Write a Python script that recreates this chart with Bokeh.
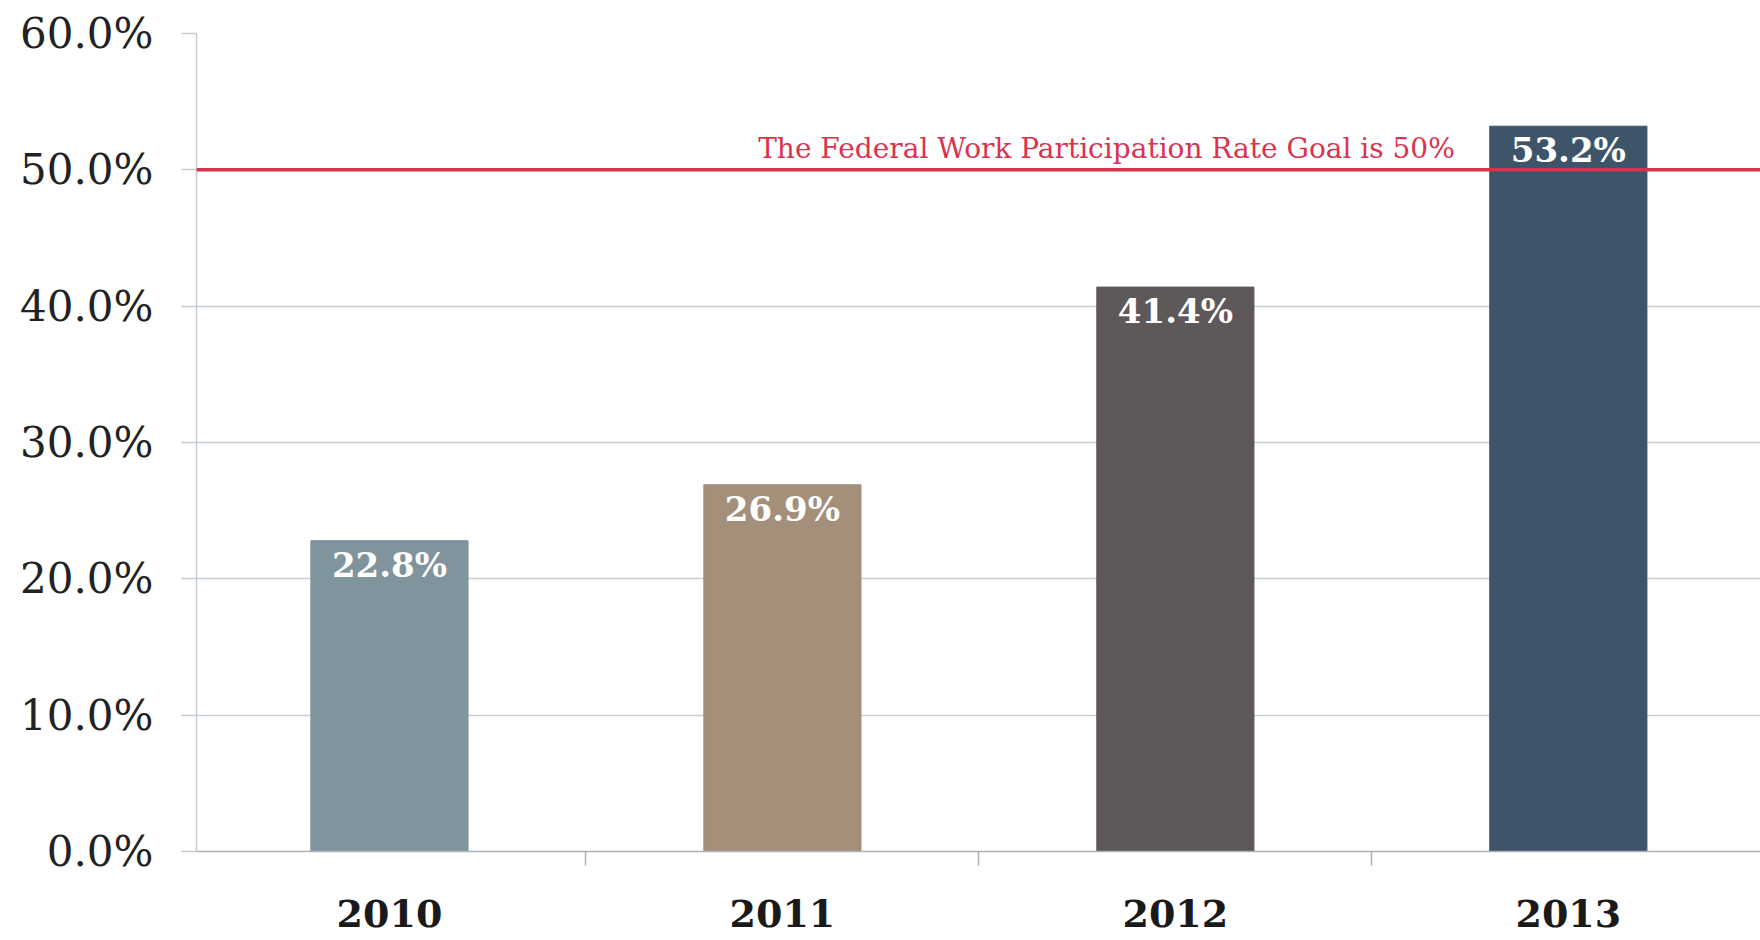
from bokeh.plotting import figure
from bokeh.models import (ColumnDataSource, Range1d, FixedTicker, PrintfTickFormatter,
                          Span, Label)
from bokeh.embed import file_html
from bokeh.resources import INLINE
from bokeh.core.properties import value

# ---- data ----
years = ["2010", "2011", "2012", "2013"]
rates = [22.8, 26.9, 41.4, 53.2]
rate_labels = ["22.8%", "26.9%", "41.4%", "53.2%"]
bar_colors = ["#7f949c", "#a38f7a", "#5f5859", "#3e5569"]
goal = 50.0
goal_text = "The Federal Work Participation Rate Goal is 50%"
y_ticks = [0, 10, 20, 30, 40, 50, 60]

xs = list(range(len(years)))
src = ColumnDataSource(dict(x=xs, top=rates, lab=rate_labels, color=bar_colors))

BAR_W = 0.40
p = figure(width=1760, height=940, output_backend="svg", toolbar_location=None,
           x_range=Range1d(-0.491, 3.489), y_range=Range1d(0, 60),
           min_border_left=196, min_border_right=0, min_border_top=33,
           min_border_bottom=89, outline_line_color=None)
p.background_fill_color = "white"
p.border_fill_color = "white"

p.vbar(x="x", top="top", width=BAR_W, bottom=0, color="color", source=src)

# goal line
p.add_layout(Span(location=goal, dimension="width", line_color="#d8344f", line_width=3.5))

p.text(x="x", y="top", text="lab", source=src, text_align="center", text_baseline="top",
       y_offset=4, text_color="white", text_font=value("DejaVu Serif"),
       text_font_style="bold", text_font_size="34px")

p.add_layout(Label(x=len(years) - 1 - BAR_W / 2, y=goal, x_offset=-35, y_offset=5,
                   text=goal_text, text_align="right", text_baseline="bottom",
                   text_color="#d8344f", text_font="DejaVu Serif", text_font_size="28px"))

# y axis
p.yaxis.ticker = FixedTicker(ticks=y_ticks)
p.yaxis.formatter = PrintfTickFormatter(format="%.1f%%")
p.yaxis.major_label_text_font = "DejaVu Serif"
p.yaxis.major_label_text_font_size = "42px"
p.yaxis.major_label_text_color = "#222222"
p.yaxis.major_label_standoff = 28
p.yaxis.axis_line_color = "#c3cad0"
p.yaxis.axis_line_width = 1.5
p.yaxis.major_tick_line_color = "#c3cad0"
p.yaxis.major_tick_line_width = 1.5
p.yaxis.major_tick_out = 15
p.yaxis.major_tick_in = 0
p.yaxis.minor_tick_line_color = None

# x axis
p.xaxis.ticker = FixedTicker(ticks=xs, minor_ticks=[i - 0.5 for i in range(len(years) + 1)])
p.xaxis.major_label_overrides = {i: y for i, y in enumerate(years)}
p.xaxis.major_label_text_font = "DejaVu Serif"
p.xaxis.major_label_text_font_style = "bold"
p.xaxis.major_label_text_font_size = "38px"
p.xaxis.major_label_text_color = "#1a1a1a"
p.xaxis.major_label_standoff = 34
p.xaxis.major_tick_line_color = None
p.xaxis.major_tick_out = 0
p.xaxis.major_tick_in = 0
p.xaxis.minor_tick_line_color = "#aab2b8"
p.xaxis.minor_tick_line_width = 1.5
p.xaxis.minor_tick_out = 14
p.xaxis.minor_tick_in = 0
p.xaxis.axis_line_color = "#aab2b8"
p.xaxis.axis_line_width = 1.5

p.xgrid.grid_line_color = None
p.ygrid.grid_line_color = "#c8ced3"
p.ygrid.grid_line_width = 1.5

open("out.html", "w").write(file_html(p, INLINE))
